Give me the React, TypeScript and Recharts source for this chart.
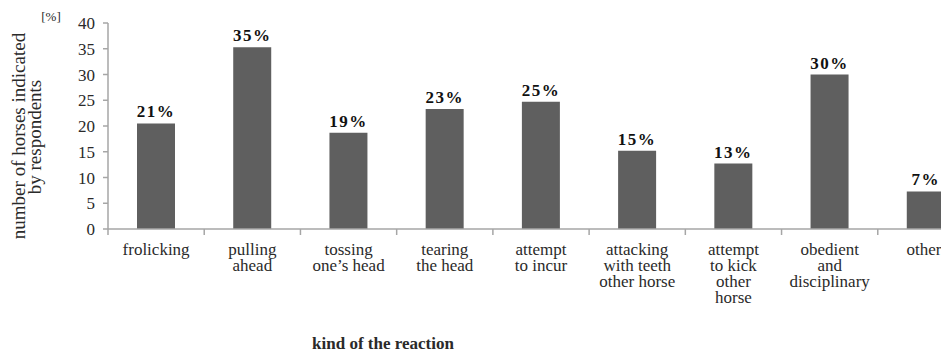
import React from 'react';
import { BarChart, Bar, XAxis, YAxis, LabelList, Label } from 'recharts';

const categories: string[] = [
  'frolicking',
  'pulling\nahead',
  'tossing\none’s head',
  'tearing\nthe head',
  'attempt\nto incur',
  'attacking\nwith teeth\nother horse',
  'attempt\nto kick\nother\nhorse',
  'obedient\nand\ndisciplinary',
  'other',
];
const values: number[] = [20.5, 35.3, 18.7, 23.3, 24.7, 15.2, 12.7, 30.0, 7.3];
const valueLabels: string[] = ['21%', '35%', '19%', '23%', '25%', '15%', '13%', '30%', '7%'];
const yTicks: number[] = [0, 5, 10, 15, 20, 25, 30, 35, 40];

const data = categories.map((c, i) => ({ name: c, value: values[i], label: valueLabels[i] }));

const CHART_W = 974;
const CHART_H = 356;
const Y_AXIS_W = 108;
const N = categories.length;
const BAND = (CHART_W - Y_AXIS_W) / N;
const AXIS_COLOR = '#a6a6a6';
const TEXT_COLOR = '#2a2a2a';
const FONT = '"Liberation Serif", "Times New Roman", serif';

function XTick(props: any) {
  const { x, y, payload, index } = props;
  const lines = String(payload.value).split('\n');
  const left = x - BAND / 2;
  const dx = index === N - 1 ? -2 : 0;
  return (
    <g>
      <line x1={left} x2={left} y1={y} y2={y + 6} stroke={AXIS_COLOR} strokeWidth={1.5} />
      <text x={x + dx} y={y + 26} textAnchor="middle" fontFamily={FONT} fontSize={17} fill={TEXT_COLOR}>
        {lines.map((l, i) => (
          <tspan key={i} x={x + dx} dy={i === 0 ? 0 : 16}>
            {l}
          </tspan>
        ))}
      </text>
    </g>
  );
}

function YTitle() {
  return (
    <g fontFamily={FONT} fill={TEXT_COLOR}>
      <text x={51} y={21} textAnchor="middle" fontSize={13}>[%]</text>
      <text transform="translate(25,136) rotate(-90)" textAnchor="middle" fontSize={19}>
        number of horses indicated
      </text>
      <text transform="translate(41,137) rotate(-90)" textAnchor="middle" fontSize={19}>
        by respondents
      </text>
    </g>
  );
}

function XTitle() {
  return (
    <text x={383} y={349} textAnchor="middle" fontFamily={FONT} fontSize={17} fontWeight="bold" fill={TEXT_COLOR}>
      kind of the reaction
    </text>
  );
}

export default function App() {
  return (
    <div style={{ position: 'fixed', left: 0, top: 0, width: 941, height: 356, overflow: 'hidden', background: '#fff' }}>
      <BarChart
        width={CHART_W}
        height={CHART_H}
        data={data}
        margin={{ top: 23, right: 0, bottom: 0, left: 0 }}
        barSize={38}
      >
        <XAxis
          dataKey="name"
          interval={0}
          height={127}
          tickSize={0}
          tickMargin={0}
          tickLine={false}
          axisLine={{ stroke: AXIS_COLOR, strokeWidth: 1.5 }}
          tick={<XTick />}
        >
          <Label content={<XTitle />} />
        </XAxis>
        <YAxis
          width={Y_AXIS_W}
          domain={[0, 40]}
          ticks={yTicks}
          interval={0}
          tickSize={5}
          tickMargin={8}
          axisLine={{ stroke: AXIS_COLOR, strokeWidth: 1.5 }}
          tickLine={{ stroke: AXIS_COLOR, strokeWidth: 1.5 }}
          tick={{ fontFamily: FONT, fontSize: 17, fill: TEXT_COLOR }}
        >
          <Label content={<YTitle />} />
        </YAxis>
        <Bar dataKey="value" fill="#5f5f5f" isAnimationActive={false}>
          <LabelList
            dataKey="label"
            position="top"
            offset={6}
            style={{ fontFamily: FONT, fontSize: 17, fontWeight: 'bold', fill: '#111', letterSpacing: 1.5 }}
          />
        </Bar>
      </BarChart>
    </div>
  );
}
